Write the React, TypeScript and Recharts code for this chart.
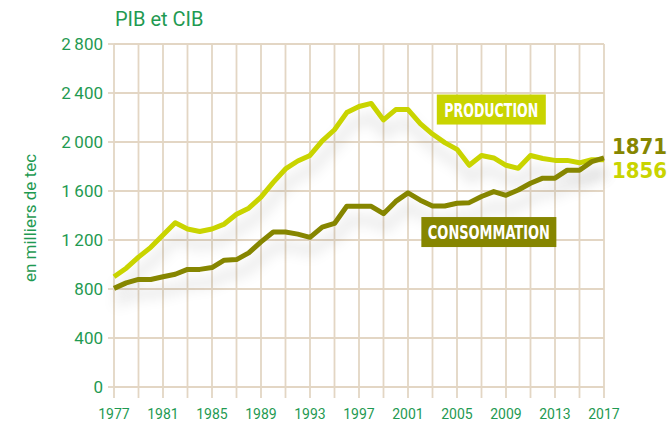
import React from 'react';
import { LineChart, Line, XAxis, YAxis, CartesianGrid, ReferenceDot } from 'recharts';

// Production et consommation d'énergie, en milliers de tec
const years = [
  1977, 1978, 1979, 1980, 1981, 1982, 1983, 1984, 1985, 1986, 1987, 1988, 1989, 1990,
  1991, 1992, 1993, 1994, 1995, 1996, 1997, 1998, 1999, 2000, 2001, 2002, 2003, 2004,
  2005, 2006, 2007, 2008, 2009, 2010, 2011, 2012, 2013, 2014, 2015, 2016, 2017,
];
const production = [
  900, 970, 1060, 1140, 1240, 1340, 1290, 1270, 1290, 1330, 1410, 1460, 1550, 1670,
  1780, 1845, 1890, 2010, 2100, 2240, 2290, 2315, 2180, 2265, 2265, 2150, 2065, 1995,
  1940, 1810, 1890, 1870, 1810, 1785, 1890, 1865, 1850, 1850, 1830, 1855, 1856,
];
const consommation = [
  805, 850, 878, 878, 900, 920, 960, 960, 975, 1035, 1040, 1095, 1185, 1265,
  1265, 1248, 1222, 1305, 1335, 1475, 1475, 1475, 1415, 1515, 1585, 1525, 1478, 1478,
  1500, 1505, 1555, 1595, 1565, 1608, 1663, 1705, 1705, 1770, 1770, 1840, 1871,
];

const gridYears = [
  1977, 1979, 1981, 1983, 1985, 1987, 1989, 1991, 1993, 1995, 1997, 1999, 2001, 2003,
  2005, 2007, 2009, 2011, 2013, 2015, 2017,
];
const labelYears = [1977, 1981, 1985, 1989, 1993, 1997, 2001, 2005, 2009, 2013, 2017];
const yTicks = [0, 400, 800, 1200, 1600, 2000, 2400, 2800];
const yTickLabels = ['0', '400', '800', '1\u2009200', '1\u2009600', '2\u2009000', '2\u2009400', '2\u2009800'];

const data = years.map((year, i) => ({ year, production: production[i], consommation: consommation[i] }));

const GREEN_TEXT = '#1f9a52';
const PROD = '#c9d400';
const CONSO = '#868600';
const GRID = '#e3d6c4';
const BOLD_FONT = "'DejaVu Sans Condensed', 'DejaVu Sans', sans-serif";

const tagShape = (label: string, fill: string, w: number, textW: number) => (props: any) => {
  const { cx, cy } = props;
  return (
    <g>
      <rect x={cx - w / 2} y={cy - 15} width={w} height={30} fill={fill} />
      <text
        x={cx}
        y={cy + 7}
        textAnchor="middle"
        fill="#fff"
        fontFamily={BOLD_FONT}
        fontWeight="bold"
        fontSize={19}
        textLength={textW}
        lengthAdjust="spacingAndGlyphs"
      >
        {label}
      </text>
    </g>
  );
};

const endLabel = (color: string, dy: number) => (props: any) => {
  const { x, y, index, value } = props;
  if (index !== data.length - 1) return null;
  return (
    <text x={x + 8} y={y + dy} fill={color} fontFamily={BOLD_FONT} fontWeight="bold" fontSize={22}>
      {value}
    </text>
  );
};

export default function App() {
  return (
    <div style={{ position: 'absolute', left: 0, top: 0, width: 669, height: 425, background: '#fff', fontFamily: 'Roboto, sans-serif' }}>
      <div style={{ position: 'absolute', left: 115, top: 7, fontSize: 20, color: GREEN_TEXT }}>PIB et CIB</div>
      <div
        style={{
          position: 'absolute',
          left: 30,
          top: 218,
          fontSize: 17,
          color: GREEN_TEXT,
          whiteSpace: 'nowrap',
          transform: 'translate(-50%, -50%) rotate(-90deg)',
        }}
      >
        en milliers de tec
      </div>
      <LineChart width={669} height={425} data={data} margin={{ top: 44, right: 65, bottom: 8, left: 54 }}>
        <defs>
          <filter id="softShadow" x="-10%" y="-30%" width="120%" height="180%">
            <feOffset dx="2" dy="14" in="SourceAlpha" result="off" />
            <feGaussianBlur in="off" stdDeviation="7" result="blur" />
            <feFlood floodColor="#000" floodOpacity="0.16" />
            <feComposite in2="blur" operator="in" result="shadow" />
            <feMerge>
              <feMergeNode in="shadow" />
              <feMergeNode in="SourceGraphic" />
            </feMerge>
          </filter>
        </defs>
        <CartesianGrid stroke={GRID} strokeWidth={1.8} />
        <XAxis
          dataKey="year"
          type="number"
          domain={[1977, 2017]}
          ticks={gridYears}
          interval={0}
          tickFormatter={(v: number) => (labelYears.includes(v) ? String(v) : '')}
          axisLine={false}
          tickLine={{ stroke: GRID, strokeWidth: 1.8 }}
          tickSize={11}
          tickMargin={11}
          height={30}
          tick={{ fill: GREEN_TEXT, fontSize: 14 }}
        />
        <YAxis
          type="number"
          domain={[0, 2800]}
          ticks={yTicks}
          interval={0}
          tickFormatter={(v: number) => yTickLabels[yTicks.indexOf(v)]}
          axisLine={false}
          tickLine={{ stroke: GRID, strokeWidth: 1.8 }}
          tickSize={6}
          tickMargin={5}
          width={60}
          tick={{ fill: GREEN_TEXT, fontSize: 17 }}
        />
        <Line
          dataKey="production"
          stroke={PROD}
          strokeWidth={5}
          strokeLinejoin="round"
          dot={false}
          type="linear"
          filter="url(#softShadow)"
          isAnimationActive={false}
          label={endLabel(PROD, 18)}
        />
        <Line
          dataKey="consommation"
          stroke={CONSO}
          strokeWidth={5}
          strokeLinejoin="round"
          dot={false}
          type="linear"
          filter="url(#softShadow)"
          isAnimationActive={false}
          label={endLabel(CONSO, -4)}
        />
        <ReferenceDot x={2007.8} y={2265} r={0} shape={tagShape('PRODUCTION', PROD, 109, 94)} />
        <ReferenceDot x={2007.6} y={1265} r={0} shape={tagShape('CONSOMMATION', CONSO, 135, 122)} />
      </LineChart>
    </div>
  );
}
